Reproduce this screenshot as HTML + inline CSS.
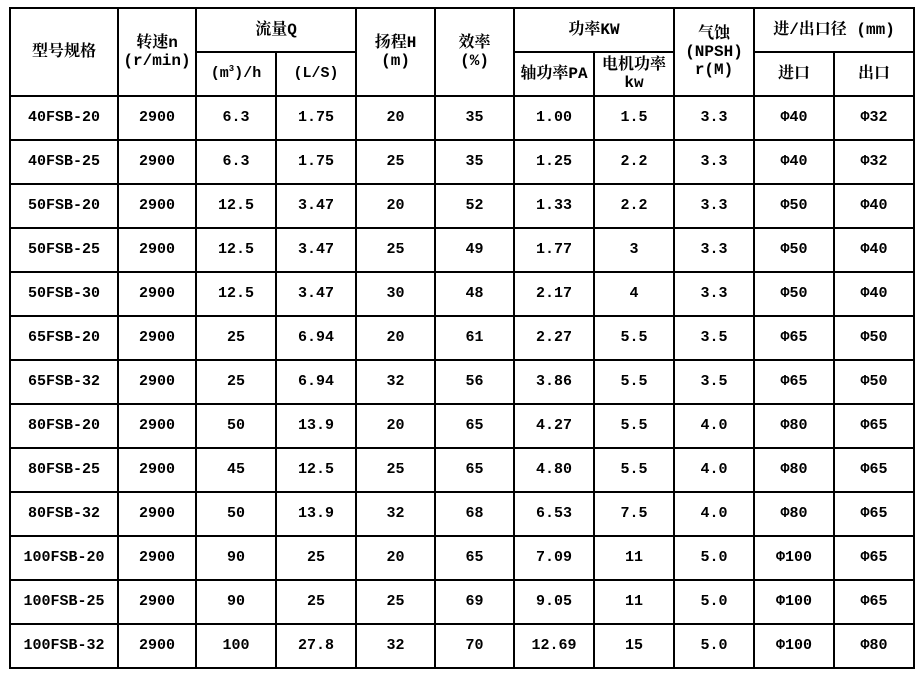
<!DOCTYPE html>
<html><head><meta charset="utf-8"><style>
body{margin:0;background:#fff;width:923px;height:673px;overflow:hidden}
table{position:absolute;left:9px;top:7px;border-collapse:collapse;table-layout:fixed;width:904px}
td{border:2px solid #000;text-align:center;vertical-align:middle;padding:0;height:42px;font-family:"Liberation Mono","Noto Serif CJK SC",monospace;font-weight:bold;font-size:15px;color:#000;line-height:18px;white-space:nowrap;overflow:hidden}
.h{font-size:16px}
sup{font-size:9px;line-height:0}
</style></head><body>
<table>
<colgroup><col style="width:108px"><col style="width:78px"><col style="width:80px"><col style="width:80px"><col style="width:79px"><col style="width:79px"><col style="width:80px"><col style="width:80px"><col style="width:80px"><col style="width:80px"><col style="width:80px"></colgroup>
<tr><td rowspan="2" class="h">型号规格</td><td rowspan="2" class="h">转速n<br>(r/min)</td><td colspan="2" class="h">流量Q</td><td rowspan="2" class="h">扬程H<br>(m)</td><td rowspan="2" class="h">效率<br>(%)</td><td colspan="2" class="h">功率KW</td><td rowspan="2" class="h">气蚀<br>(NPSH)<br>r(M)</td><td colspan="2" class="h">进/出口径 (mm)</td></tr>
<tr><td>(m<sup>3</sup>)/h</td><td>(L/S)</td><td class="h">轴功率PA</td><td class="h">电机功率<br>kw</td><td class="h">进口</td><td class="h">出口</td></tr>
<tr><td>40FSB-20</td><td>2900</td><td>6.3</td><td>1.75</td><td>20</td><td>35</td><td>1.00</td><td>1.5</td><td>3.3</td><td>Φ40</td><td>Φ32</td></tr>
<tr><td>40FSB-25</td><td>2900</td><td>6.3</td><td>1.75</td><td>25</td><td>35</td><td>1.25</td><td>2.2</td><td>3.3</td><td>Φ40</td><td>Φ32</td></tr>
<tr><td>50FSB-20</td><td>2900</td><td>12.5</td><td>3.47</td><td>20</td><td>52</td><td>1.33</td><td>2.2</td><td>3.3</td><td>Φ50</td><td>Φ40</td></tr>
<tr><td>50FSB-25</td><td>2900</td><td>12.5</td><td>3.47</td><td>25</td><td>49</td><td>1.77</td><td>3</td><td>3.3</td><td>Φ50</td><td>Φ40</td></tr>
<tr><td>50FSB-30</td><td>2900</td><td>12.5</td><td>3.47</td><td>30</td><td>48</td><td>2.17</td><td>4</td><td>3.3</td><td>Φ50</td><td>Φ40</td></tr>
<tr><td>65FSB-20</td><td>2900</td><td>25</td><td>6.94</td><td>20</td><td>61</td><td>2.27</td><td>5.5</td><td>3.5</td><td>Φ65</td><td>Φ50</td></tr>
<tr><td>65FSB-32</td><td>2900</td><td>25</td><td>6.94</td><td>32</td><td>56</td><td>3.86</td><td>5.5</td><td>3.5</td><td>Φ65</td><td>Φ50</td></tr>
<tr><td>80FSB-20</td><td>2900</td><td>50</td><td>13.9</td><td>20</td><td>65</td><td>4.27</td><td>5.5</td><td>4.0</td><td>Φ80</td><td>Φ65</td></tr>
<tr><td>80FSB-25</td><td>2900</td><td>45</td><td>12.5</td><td>25</td><td>65</td><td>4.80</td><td>5.5</td><td>4.0</td><td>Φ80</td><td>Φ65</td></tr>
<tr><td>80FSB-32</td><td>2900</td><td>50</td><td>13.9</td><td>32</td><td>68</td><td>6.53</td><td>7.5</td><td>4.0</td><td>Φ80</td><td>Φ65</td></tr>
<tr><td>100FSB-20</td><td>2900</td><td>90</td><td>25</td><td>20</td><td>65</td><td>7.09</td><td>11</td><td>5.0</td><td>Φ100</td><td>Φ65</td></tr>
<tr><td>100FSB-25</td><td>2900</td><td>90</td><td>25</td><td>25</td><td>69</td><td>9.05</td><td>11</td><td>5.0</td><td>Φ100</td><td>Φ65</td></tr>
<tr><td>100FSB-32</td><td>2900</td><td>100</td><td>27.8</td><td>32</td><td>70</td><td>12.69</td><td>15</td><td>5.0</td><td>Φ100</td><td>Φ80</td></tr>
</table>
</body></html>
